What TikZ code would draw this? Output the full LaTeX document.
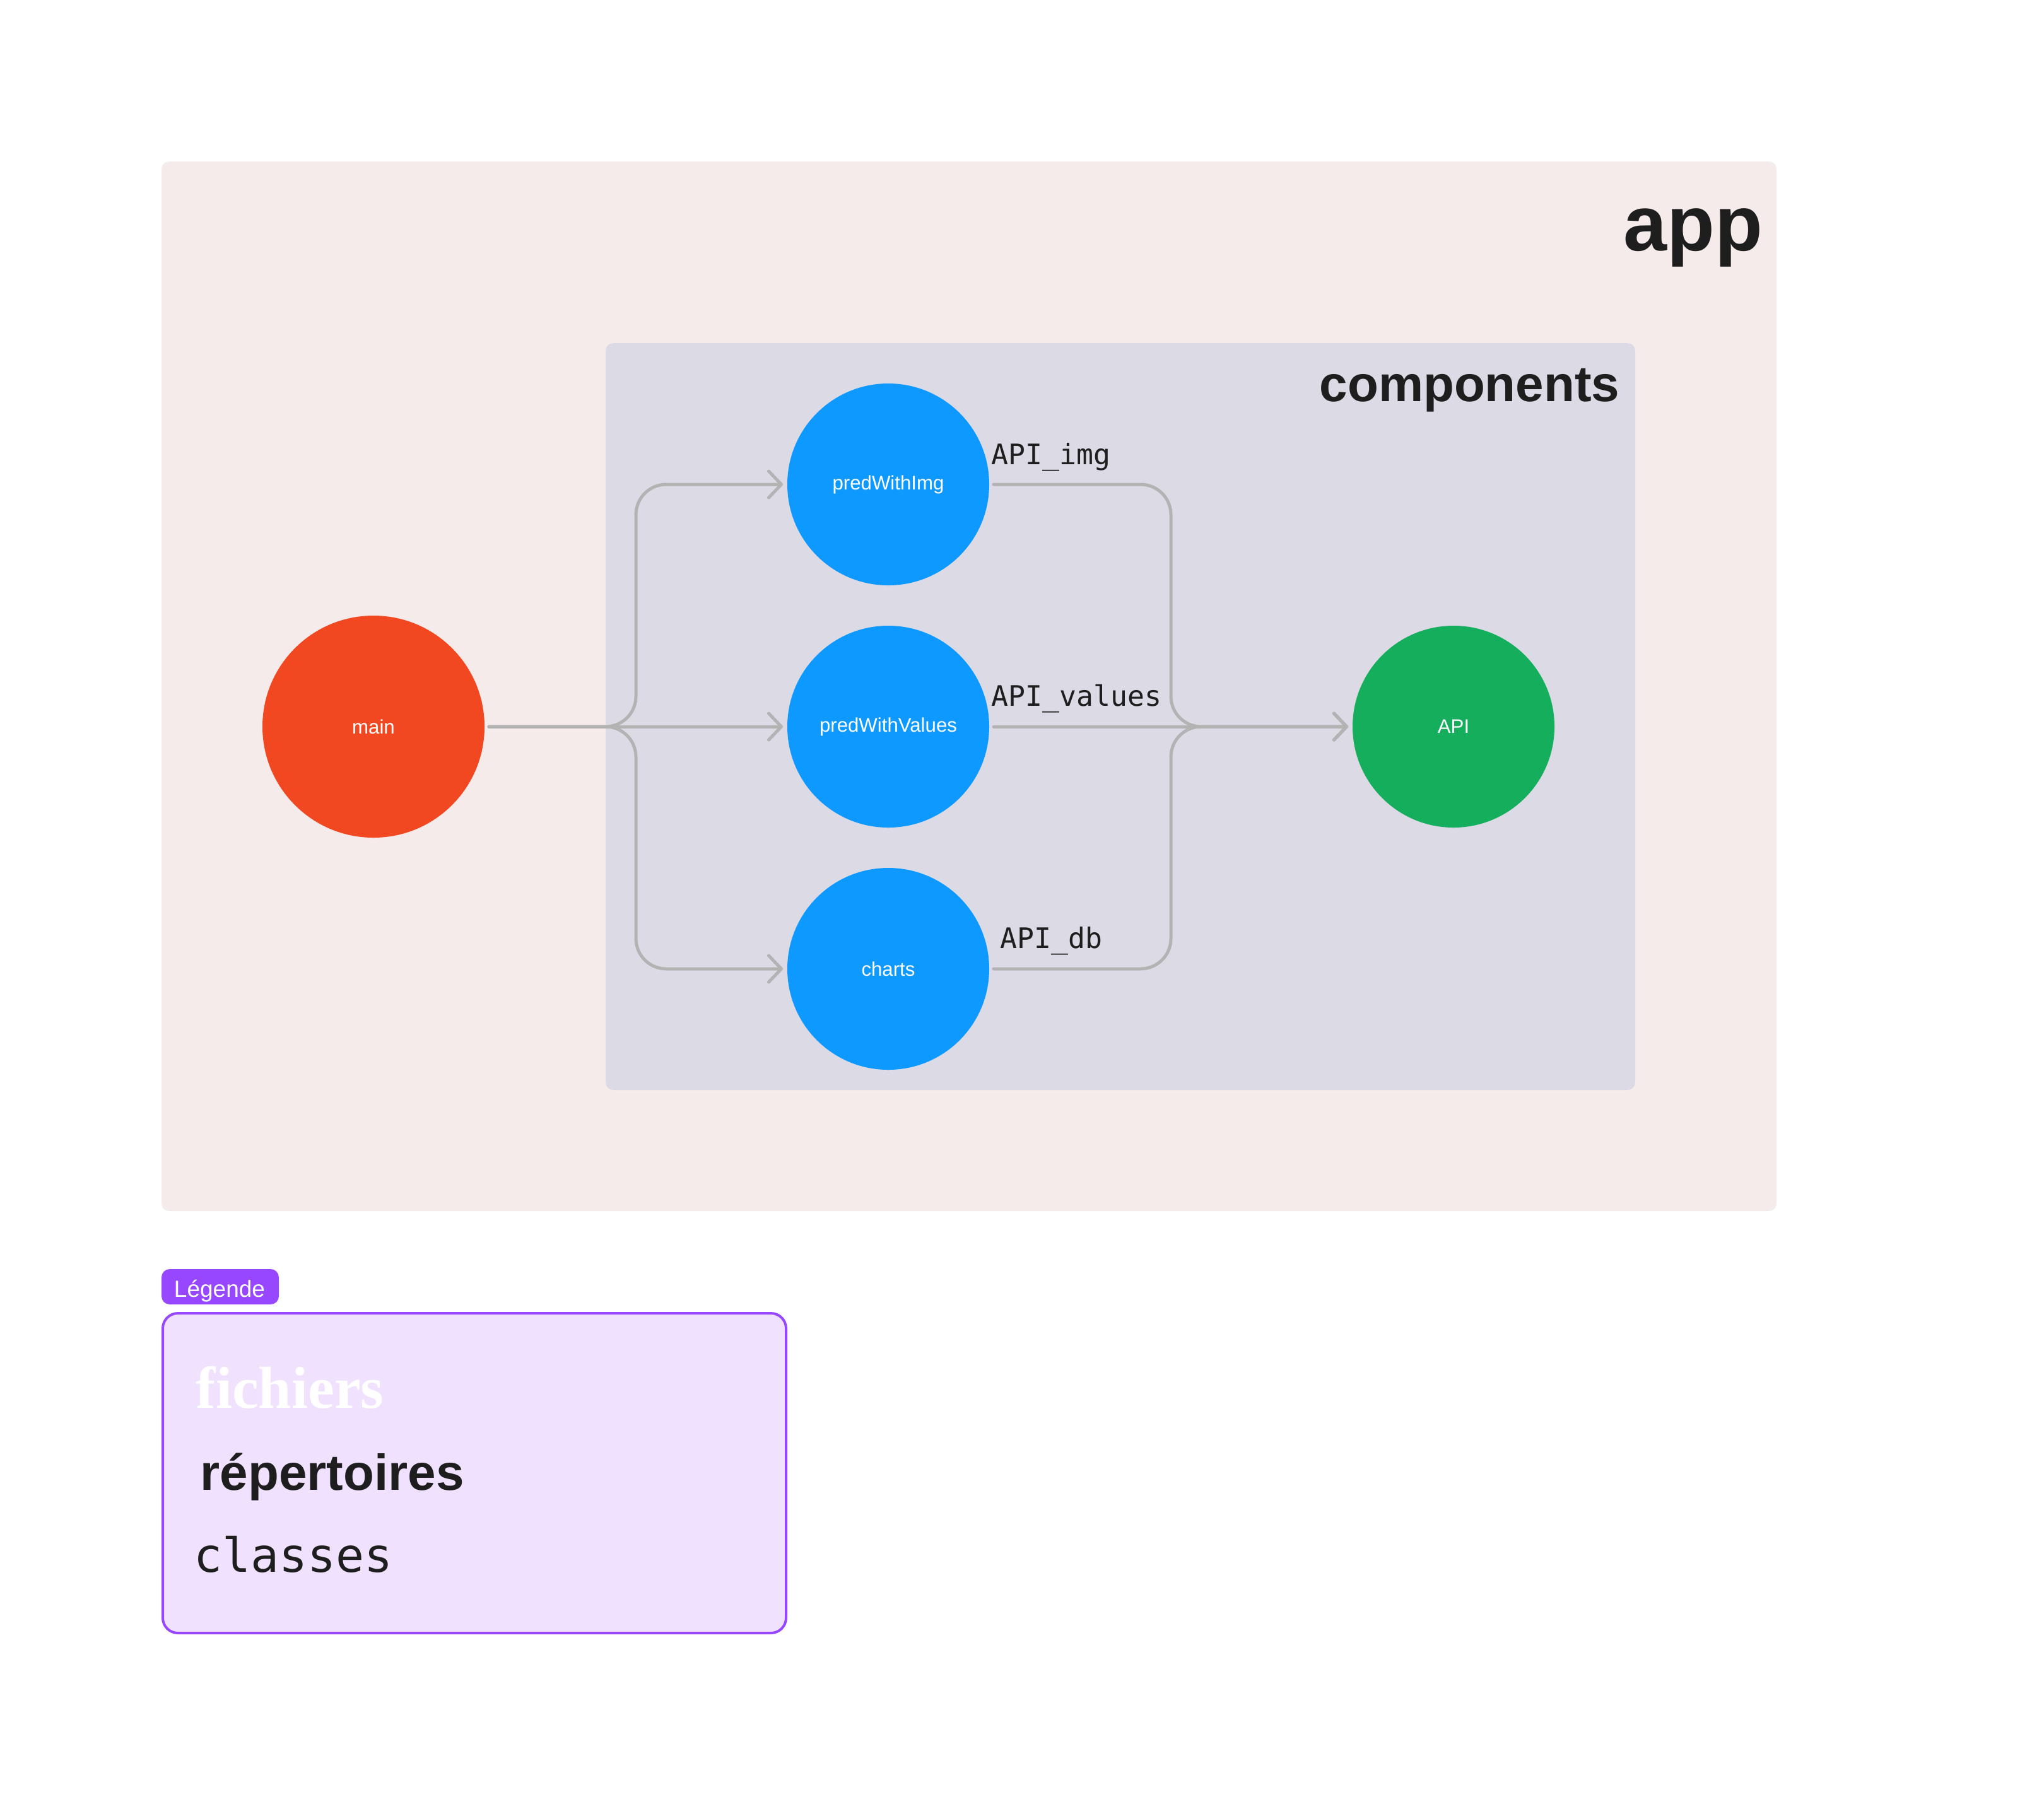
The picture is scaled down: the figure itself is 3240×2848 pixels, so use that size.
\documentclass[tikz,border=0pt]{standalone}
\usepackage{fontspec}
\setmainfont{Liberation Sans}
\setmonofont{DejaVu Sans Mono}
\newfontfamily\legserif{Liberation Serif}
\usetikzlibrary{arrows.meta}
\definecolor{appbg}{RGB}{246,235,235}
\definecolor{compbg}{RGB}{220,218,228}
\definecolor{mainred}{RGB}{242,72,34}
\definecolor{nodeblue}{RGB}{13,153,255}
\definecolor{nodegreen}{RGB}{20,174,92}
\definecolor{linegray}{RGB}{179,179,179}
\definecolor{darktext}{RGB}{30,30,30}
\definecolor{legpurple}{RGB}{151,71,255}
\definecolor{legfill}{RGB}{240,225,255}
\tikzset{
  circnode/.style={circle, minimum size=80pt, inner sep=0pt, outer sep=1.75pt, text=white,
    font=\fontsize{7.8}{9}\selectfont},
  conn/.style={draw=linegray, line width=1.25pt, rounded corners=12pt, line cap=round},
  arr/.style={-{Straight Barb[length=5pt,width=10.5pt,round]}},
  apilabel/.style={anchor=base west, inner sep=0pt, text=darktext, font=\ttfamily\fontsize{11.2}{13}\selectfont},
  title/.style={anchor=base east, inner sep=0pt, text=darktext},
  legtext/.style={anchor=base west, inner sep=0pt}
}
\begin{document}
\begin{tikzpicture}[x=0.25pt, y=-0.25pt]
\useasboundingbox (0,0) rectangle (3240,2848);
\fill[white] (0,0) rectangle (3240,2848);
% app frame
\fill[appbg, rounded corners=3pt] (256,256) rectangle (2816,1920);
\node[title, font=\bfseries\fontsize{31}{36}\selectfont] (apptitle) at (2795,397) {app};
% components frame
\fill[compbg, rounded corners=3pt] (960,544) rectangle (2592,1728);
\node[title, font=\bfseries\fontsize{20}{24}\selectfont] (comptitle) at (2568,636) {components};
% nodes
\node[circnode, fill=mainred, minimum size=88pt] (main) at (592,1152) {main};
\node[circnode, fill=nodeblue] (pwi) at (1408,768) {predWithImg};
\node[circnode, fill=nodeblue] (pwv) at (1408,1152) {predWithValues};
\node[circnode, fill=nodeblue] (charts) at (1408,1536) {charts};
\node[circnode, fill=nodegreen] (api) at (2304,1152) {API};
% junctions
\coordinate (splitL) at (1008,1152);
\coordinate (mergeR) at (1856,1152);
% connectors left
\draw[conn, arr] (main.east) -- (splitL) |- (pwi.west);
\draw[conn, arr] (main.east) -- (pwv.west);
\draw[conn, arr] (main.east) -- (splitL) |- (charts.west);
% connectors right
\draw[conn, arr] (pwi.east) -| (mergeR) -- (api.west);
\draw[conn, arr] (pwv.east) -- (api.west);
\draw[conn, arr] (charts.east) -| (mergeR) -- (api.west);
% labels
\node[apilabel] (limg) at (1571,736) {API\_img};
\node[apilabel] (lval) at (1571,1119) {API\_values};
\node[apilabel] (ldb) at (1585,1503) {API\_db};
% legend
\fill[legpurple, rounded corners=3.25pt] (256,2012) rectangle (442,2068);
\node[anchor=base, inner sep=0pt, text=white, font=\fontsize{9.25}{11}\selectfont] (legtag) at (348,2056) {Légende};
\draw[legpurple, fill=legfill, line width=1pt, rounded corners=6pt] (258,2082) rectangle (1246,2589);
\node[legtext, text=white, font=\legserif\bfseries\fontsize{23.5}{28}\selectfont] (lfich) at (310,2232) {fichiers};
\node[legtext, text=darktext, font=\bfseries\fontsize{20}{24}\selectfont] (lrep) at (317,2362) {répertoires};
\node[legtext, text=darktext, font=\ttfamily\fontsize{18.7}{22}\selectfont] (lcls) at (307,2492) {classes};
\end{tikzpicture}
\end{document}
